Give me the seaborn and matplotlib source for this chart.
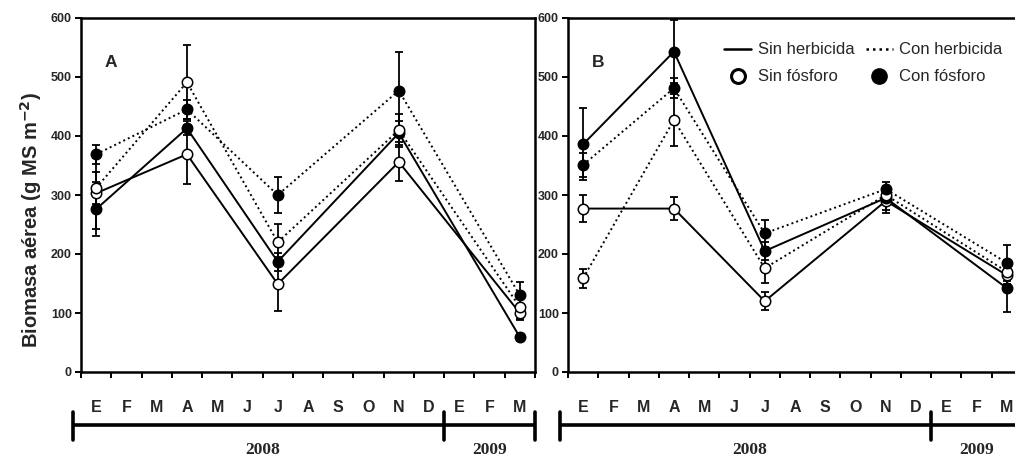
import numpy as np
import pandas as pd
import matplotlib
matplotlib.use("Agg")
import matplotlib.pyplot as plt
from matplotlib.lines import Line2D
from matplotlib import font_manager
import seaborn as sns

# ---- data -------------------------------------------------------------
months = ["E", "F", "M", "A", "M", "J", "J", "A", "S", "O", "N", "D", "E", "F", "M"]
sample_month = [1, 4, 7, 11, 15]          # Jan-08, Apr-08, Jul-08, Nov-08, Mar-09

# Panel A  (mean, standard error)
a_sinherb_sinp = [303, 369, 149, 356, 100]
a_sinherb_sinp_se = [60, 50, 46, 33, 12]
a_sinherb_conp = [276, 413, 187, 405, 59]
a_sinherb_conp_se = [46, 12, 15, 20, 6]
a_conherb_sinp = [312, 491, 220, 410, 110]
a_conherb_sinp_se = [27, 63, 31, 28, 20]
a_conherb_conp = [369, 445, 300, 477, 130]
a_conherb_conp_se = [16, 16, 30, 65, 23]

# Panel B
b_sinherb_sinp = [277, 277, 120, 290, 164]
b_sinherb_sinp_se = [23, 20, 15, 20, 20]
b_sinherb_conp = [386, 543, 205, 295, 142]
b_sinherb_conp_se = [61, 54, 15, 20, 40]
b_conherb_sinp = [159, 427, 176, 300, 170]
b_conherb_sinp_se = [16, 44, 25, 15, 20]
b_conherb_conp = [351, 481, 235, 310, 185]
b_conherb_conp_se = [20, 17, 23, 12, 30]

years = [("2008", 0, 12), ("2009", 12, 15)]
yticks = [0, 100, 200, 300, 400, 500, 600]

# ---- long table ------------------------------------------------------
rows = []
series = {
    "A": [("Sin herbicida", "Sin fósforo", a_sinherb_sinp, a_sinherb_sinp_se),
          ("Sin herbicida", "Con fósforo", a_sinherb_conp, a_sinherb_conp_se),
          ("Con herbicida", "Sin fósforo", a_conherb_sinp, a_conherb_sinp_se),
          ("Con herbicida", "Con fósforo", a_conherb_conp, a_conherb_conp_se)],
    "B": [("Sin herbicida", "Sin fósforo", b_sinherb_sinp, b_sinherb_sinp_se),
          ("Sin herbicida", "Con fósforo", b_sinherb_conp, b_sinherb_conp_se),
          ("Con herbicida", "Sin fósforo", b_conherb_sinp, b_conherb_sinp_se),
          ("Con herbicida", "Con fósforo", b_conherb_conp, b_conherb_conp_se)],
}
for panel, lst in series.items():
    for herb, fos, vals, ses in lst:
        for m, v, s in zip(sample_month, vals, ses):
            rows.append(dict(panel=panel, herbicida=herb, fosforo=fos,
                             pos=m - 0.5, biomasa=v, se=s))
df = pd.DataFrame(rows)

# ---- fonts -----------------------------------------------------------
_avail = {f.name for f in font_manager.fontManager.ttflist}


def pick(*names):
    for n in names:
        if n in _avail:
            return n
    return "DejaVu Sans"


narrow = pick("Liberation Sans Narrow", "Liberation Sans", "Arial")
sans = pick("Liberation Sans", "Arial")
serif = pick("Liberation Serif", "DejaVu Serif")

sns.set_theme(style="ticks")
plt.rcParams["font.family"] = [sans, "DejaVu Sans"]

DOT = (0, (1.0, 1.6))
line_style = {"Sin herbicida": "-", "Con herbicida": DOT}
face = {"Sin fósforo": "white", "Con fósforo": "black"}

# ---- figure ----------------------------------------------------------
W, H = 1015, 458
fig = plt.figure(figsize=(W / 100, H / 100), dpi=100)
fig.patch.set_facecolor("white")


def fx(px):
    return px / W


def fy(px):
    return 1 - px / H


panels = {"A": 81, "B": 568}
pw = 454
top_px, bot_px = 18, 372

for panel, left in panels.items():
    ax = fig.add_axes([fx(left), fy(bot_px), pw / W, (bot_px - top_px) / H])
    ax.set_facecolor("white")
    sub = df[df.panel == panel]
    for (herb, fos), g in sub.groupby(["herbicida", "fosforo"], sort=False):
        ax.errorbar(g.pos, g.biomasa, yerr=g.se, fmt="none", ecolor="black",
                    elinewidth=1.3, capsize=3.2, capthick=1.3, zorder=2)
        sns.lineplot(data=g, x="pos", y="biomasa", ax=ax, color="black",
                     linestyle=line_style[herb], linewidth=1.4,
                     marker="o", markersize=7.5, markerfacecolor=face[fos],
                     markeredgecolor="black", markeredgewidth=1.1,
                     zorder=3, legend=False, errorbar=None)
    ax.set_xlim(0, 15)
    ax.set_ylim(0, 600)
    ax.set_xticks(np.arange(0, 16))
    ax.set_xticklabels([])
    ax.set_yticks(yticks)
    ax.set_yticklabels([str(t) for t in yticks], fontfamily=narrow,
                       fontweight="bold", fontsize=9)
    ax.set_xlabel("")
    ax.set_ylabel("")
    ax.tick_params(axis="both", direction="out", length=4.5, width=1.4,
                   color="black", pad=2)
    for sp in ax.spines.values():
        sp.set_linewidth(1.8)
        sp.set_color("black")
        sp.set_visible(True)
    ax.text(0.052, 0.875, panel, transform=ax.transAxes, fontsize=12.5,
            fontweight="bold", ha="left", va="center")

    # month / year timeline under the panel
    tl = fig.add_axes([fx(left), 0, pw / W, 78 / H])
    tl.set_xlim(0, 15)
    tl.set_ylim(78, 0)
    tl.axis("off")
    tl.plot([-0.27, 15], [45, 45], color="black", lw=2.6,
            solid_capstyle="butt", clip_on=False)
    for xt in (-0.27, 12, 15):
        tl.plot([xt, xt], [32, 60], color="black", lw=2.6, clip_on=False)
    for i, mth in enumerate(months):
        tl.text(i + 0.5, 27, mth, ha="center", va="center", fontsize=11.5,
                fontweight="bold", clip_on=False)
    for label, x0, x1 in years:
        tl.text((x0 + x1) / 2, 70, label, ha="center", va="center",
                fontsize=12.5, fontweight="bold", fontfamily=serif,
                clip_on=False)

    if panel == "B":
        handles = [
            Line2D([], [], color="black", lw=1.8, linestyle="-"),
            Line2D([], [], color="white", marker="o", markersize=10,
                   markerfacecolor="white", markeredgecolor="black",
                   markeredgewidth=2.2, linestyle="none"),
            Line2D([], [], color="black", lw=1.8, linestyle=DOT),
            Line2D([], [], color="black", marker="o", markersize=11,
                   markerfacecolor="black", markeredgecolor="black",
                   linestyle="none"),
        ]
        labels = ["Sin herbicida", "Sin fósforo", "Con herbicida", "Con fósforo"]
        ax.legend(handles, labels, ncol=2, frameon=False,
                  loc="upper left", bbox_to_anchor=(0.330, 0.950),
                  prop={"family": narrow, "size": 12},
                  handlelength=1.6, handletextpad=0.4, columnspacing=0.7,
                  labelspacing=0.72, borderaxespad=0)

fig.text(fx(31), fy(220), "Biomasa aérea (g MS m$^{\\mathbf{-2}}$)",
         rotation=90, ha="center", va="center", fontsize=14.5,
         fontweight="bold")

fig.savefig("out.png", dpi=100, facecolor="white")
